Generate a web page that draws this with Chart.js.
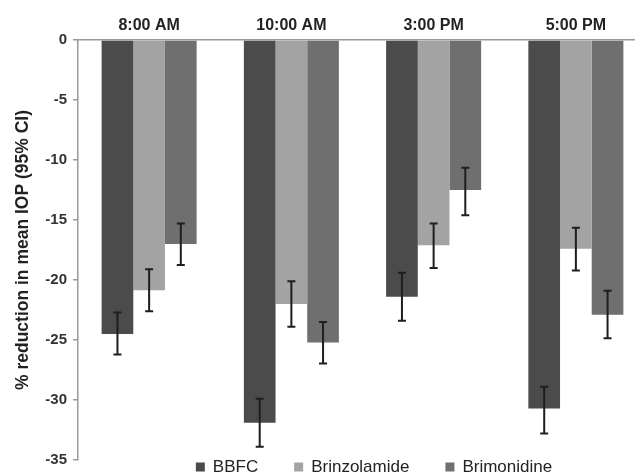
<!DOCTYPE html>
<html lang="en">
<head>
<meta charset="UTF-8">
<title>% reduction in mean IOP</title>
<script src="https://cdn.jsdelivr.net/npm/chart.js"></script>
<style>
  html, body { margin: 0; padding: 0; overflow: hidden; background: #fff; }
  #wrap { position: relative; width: 660px; height: 475px; }
</style>
</head>
<body>
<div id="wrap"><canvas id="iopChart"></canvas></div>
<script>
// time points (shown along the top)
const timePoints = ['8:00 AM', '10:00 AM', '3:00 PM', '5:00 PM'];
const seriesNames = ['BBFC', 'Brinzolamide', 'Brimonidine'];

// mean % reduction in IOP
const bbfcMean = [-24.5, -31.9, -21.4, -30.7];
const brinzMean = [-20.85, -22.0, -17.1, -17.4];
const brimMean = [-17.0, -25.2, -12.5, -22.9];

// 95% CI ends
const bbfcHi = [-22.7, -29.9, -19.4, -28.9];
const bbfcLo = [-26.2, -33.9, -23.4, -32.8];
const brinzHi = [-19.1, -20.1, -15.3, -15.65];
const brinzLo = [-22.6, -23.9, -19.0, -19.2];
const brimHi = [-15.3, -23.5, -10.65, -20.9];
const brimLo = [-18.75, -26.95, -14.6, -24.85];

const barColors = ['#4b4b4b', '#a3a3a3', '#6f6f6f'];
const FONT = '"Liberation Sans", Arial, sans-serif';

// draws the CI whiskers on top of each bar
const errorBars = {
  id: 'errorBars',
  afterDatasetsDraw(chart) {
    const ctx = chart.ctx;
    const y = chart.scales.y;
    ctx.save();
    ctx.strokeStyle = '#1e1e1e';
    ctx.lineWidth = 2;
    chart.data.datasets.forEach((ds, di) => {
      const meta = chart.getDatasetMeta(di);
      meta.data.forEach((bar, i) => {
        const yHi = y.getPixelForValue(ds.ciHi[i]);
        const yLo = y.getPixelForValue(ds.ciLo[i]);
        ctx.beginPath();
        ctx.moveTo(bar.x, yHi);
        ctx.lineTo(bar.x, yLo);
        ctx.moveTo(bar.x - 4, yHi);
        ctx.lineTo(bar.x + 4, yHi);
        ctx.moveTo(bar.x - 4, yLo);
        ctx.lineTo(bar.x + 4, yLo);
        ctx.stroke();
      });
    });
    ctx.restore();
  }
};

// legend sits over the bottom of the plot, like in the original figure
const bottomLegend = {
  id: 'bottomLegend',
  afterDraw(chart) {
    const ctx = chart.ctx;
    const box = 9, gap = 8, spacing = 36;
    ctx.save();
    ctx.font = '17px ' + FONT;
    ctx.textBaseline = 'middle';
    const widths = chart.data.datasets.map(ds => box + gap + ctx.measureText(ds.label).width);
    const total = widths.reduce((a, b) => a + b, 0) + spacing * (widths.length - 1);
    let x = 374 - total / 2;
    const yMid = 467;
    chart.data.datasets.forEach((ds, i) => {
      ctx.fillStyle = ds.backgroundColor;
      ctx.fillRect(x, yMid - box / 2, box, box);
      ctx.fillStyle = '#222';
      ctx.fillText(ds.label, x + box + gap, yMid);
      x += widths[i] + spacing;
    });
    ctx.restore();
  }
};

new Chart(document.getElementById('iopChart'), {
  type: 'bar',
  data: {
    labels: timePoints,
    datasets: [
      { label: seriesNames[0], data: bbfcMean, ciHi: bbfcHi, ciLo: bbfcLo, backgroundColor: barColors[0] },
      { label: seriesNames[1], data: brinzMean, ciHi: brinzHi, ciLo: brinzLo, backgroundColor: barColors[1] },
      { label: seriesNames[2], data: brimMean, ciHi: brimHi, ciLo: brimLo, backgroundColor: barColors[2] }
    ]
  },
  options: {
    responsive: true,
    maintainAspectRatio: false,
    animation: false,
    layout: { padding: { top: 0, right: 13, bottom: 9, left: 0 } },
    datasets: { bar: { categoryPercentage: 0.668, barPercentage: 1.0 } },
    plugins: {
      legend: { display: false },
      tooltip: { enabled: false }
    },
    scales: {
      x: {
        position: 'top',
        grid: { display: false },
        border: { display: true, color: '#9a9a9a', width: 1.5 },
        ticks: { color: '#222', padding: -3, font: { family: FONT, size: 16, weight: 'bold' } },
        afterFit(scale) { scale.height = 40; }
      },
      y: {
        min: -35,
        max: 0,
        ticks: { stepSize: 5, color: '#333', padding: 6, font: { family: FONT, size: 15, weight: 'bold' } },
        grid: { drawOnChartArea: false, drawTicks: true, tickLength: 5, tickColor: '#9a9a9a', lineWidth: 1.5 },
        border: { display: true, color: '#9a9a9a', width: 1.5 },
        title: {
          display: true,
          text: '% reduction in mean IOP (95% CI)',
          color: '#222',
          padding: { top: 13, bottom: 0 },
          font: { family: FONT, size: 17.5, weight: 'bold' }
        },
        afterFit(scale) { scale.width = 78; }
      }
    }
  },
  plugins: [errorBars, bottomLegend]
});
</script>
</body>
</html>
